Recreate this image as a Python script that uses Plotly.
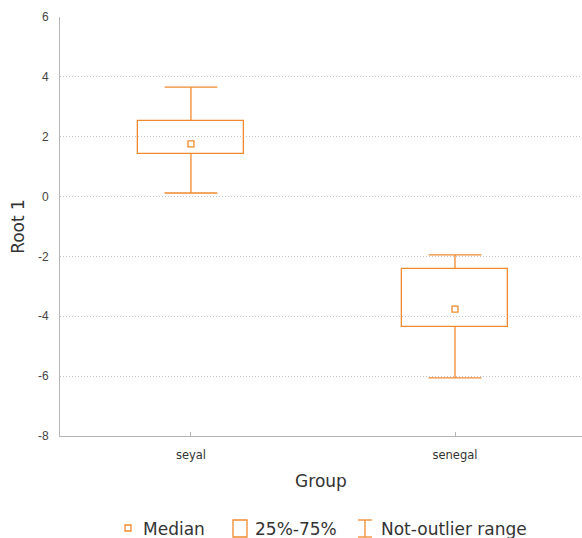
import plotly.graph_objects as go

# Summary statistics of Root 1 per group
groups = ["seyal", "senegal"]
medians = [1.76, -3.76]
q1 = [1.42, -4.36]
q3 = [2.53, -2.42]
lower = [0.12, -6.06]
upper = [3.66, -1.95]
y_ticks = [-8, -6, -4, -2, 0, 2, 4, 6]

ORANGE = "#F08A2E"
GRID = "#C4C4C4"
AXIS = "#B5B5B5"
TEXT = "#333333"
FONT = "DejaVu Sans"

pos = list(range(len(groups)))
box_w = 0.40
cap_half = 0.10

fig = go.Figure()

# 25%-75% boxes
fig.add_trace(go.Bar(
    x=pos, y=[b - a for a, b in zip(q1, q3)], base=q1, width=box_w,
    marker=dict(color="rgba(255,255,255,0)", line=dict(color=ORANGE, width=1.3)),
    showlegend=False, hoverinfo="skip",
))

# whiskers with caps (non-outlier range)
wx, wy = [], []
for p, a, b, lo, hi in zip(pos, q1, q3, lower, upper):
    wx += [p, p, None, p - cap_half, p + cap_half, None,
           p, p, None, p - cap_half, p + cap_half, None]
    wy += [b, hi, None, hi, hi, None,
           a, lo, None, lo, lo, None]
fig.add_trace(go.Scatter(
    x=wx, y=wy, mode="lines", line=dict(color=ORANGE, width=1.3),
    showlegend=False, hoverinfo="skip",
))

# medians
fig.add_trace(go.Scatter(
    x=pos, y=medians, mode="markers",
    marker=dict(symbol="square-open", size=6, color=ORANGE, line=dict(width=1.3)),
    showlegend=False,
))

fig.update_layout(
    width=582, height=538,
    margin=dict(l=60, r=0, t=17, b=102),
    paper_bgcolor="white", plot_bgcolor="white",
    showlegend=False,
    bargap=0,
    xaxis=dict(
        range=[-0.496, 1.481], tickvals=pos, ticktext=groups,
        showgrid=False, zeroline=False,
        showline=True, linecolor=AXIS, linewidth=1,
        ticks="inside", ticklen=4, tickcolor=AXIS,
        ticklabelstandoff=8,
        tickfont=dict(family=FONT, size=11.5, color=TEXT),
        title=dict(text="Group", font=dict(family=FONT, size=17, color=TEXT), standoff=14),
    ),
    yaxis=dict(
        range=[-8, 6], tickvals=y_ticks, ticktext=[str(v) for v in y_ticks],
        showgrid=True, gridcolor=GRID, griddash="1px,2px", gridwidth=1,
        zeroline=False,
        showline=True, linecolor=AXIS, linewidth=1,
        ticks="", ticklabelstandoff=8,
        tickfont=dict(family="Liberation Sans", size=12, color="#444444"),
        title=dict(text="Root 1", font=dict(family=FONT, size=17, color=TEXT), standoff=8),
    ),
)

# custom legend below the plot
W, H = 522, 419


def px_x(px):
    return (px - 60) / W


def px_y(py):
    return (436 - py) / H


ly = 528
shape_line = dict(color=ORANGE, width=1.3)
fig.add_shape(type="rect", xref="paper", yref="paper",
              x0=px_x(125), x1=px_x(131), y0=px_y(ly + 3), y1=px_y(ly - 3), line=shape_line)
fig.add_shape(type="rect", xref="paper", yref="paper",
              x0=px_x(233), x1=px_x(247), y0=px_y(ly + 9), y1=px_y(ly - 8), line=shape_line)
fig.add_shape(type="line", xref="paper", yref="paper",
              x0=px_x(365), x1=px_x(365), y0=px_y(ly + 9), y1=px_y(ly - 8), line=shape_line)
fig.add_shape(type="line", xref="paper", yref="paper",
              x0=px_x(358), x1=px_x(372), y0=px_y(ly - 8), y1=px_y(ly - 8), line=shape_line)
fig.add_shape(type="line", xref="paper", yref="paper",
              x0=px_x(358), x1=px_x(372), y0=px_y(ly + 9), y1=px_y(ly + 9), line=shape_line)

for label, lx in [("Median", 143), ("25%-75%", 255), ("Not-outlier range", 381)]:
    fig.add_annotation(text=label, xref="paper", yref="paper",
                       x=px_x(lx), y=px_y(ly), xanchor="left", yanchor="middle",
                       xshift=-2, yshift=-1, showarrow=False,
                       font=dict(family=FONT, size=17, color=TEXT))

fig.write_html("out.html")
